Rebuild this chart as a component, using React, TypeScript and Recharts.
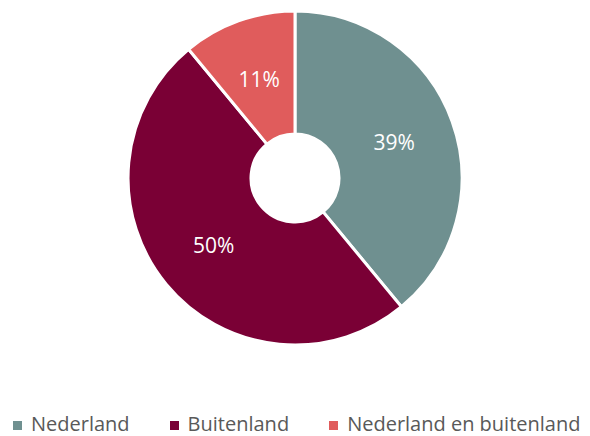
import { PieChart, Pie, Cell, Legend } from "recharts";

const categories = ["Nederland", "Buitenland", "Nederland en buitenland"];
const shares = [39, 50, 11];
const colors = ["#6f9090", "#7a0035", "#e05c5c"];

const data = categories.map((name, i) => ({ name, value: shares[i] }));

const RADIAN = Math.PI / 180;

// label halverwege de ring, wit
function renderLabel(props: any) {
  const { cx, cy, midAngle, innerRadius, outerRadius, value } = props;
  const r = (innerRadius + outerRadius) / 2;
  const x = cx + r * Math.cos(-midAngle * RADIAN);
  const y = cy + r * Math.sin(-midAngle * RADIAN);
  return (
    <text
      x={x}
      y={y}
      fill="#ffffff"
      textAnchor="middle"
      dominantBaseline="central"
      fontSize={21}
      fontFamily="'Open Sans', sans-serif"
    >
      {`${value}%`}
    </text>
  );
}

function renderLegend() {
  return (
    <div
      style={{
        display: "flex",
        gap: 40,
        paddingLeft: 13,
        fontFamily: "'Open Sans', sans-serif",
        fontSize: 20,
        lineHeight: "20px",
        color: "#595959",
        whiteSpace: "nowrap",
      }}
    >
      {categories.map((c, i) => (
        <span key={c} style={{ display: "flex", alignItems: "center" }}>
          <span
            style={{
              width: 9,
              height: 9,
              background: colors[i],
              marginRight: 9,
              marginTop: 3,
              display: "inline-block",
            }}
          />
          {c}
        </span>
      ))}
    </div>
  );
}

export default function App() {
  // body-marge van 8px compenseren zodat de grafiek de hele pagina vult
  return (
    <div style={{ position: "relative", top: -8, left: -8, width: 590, height: 436 }}>
      <PieChart width={590} height={436} margin={{ top: 0, right: 0, bottom: 0, left: 0 }}>
        <Pie
          data={data}
          dataKey="value"
          nameKey="name"
          cx={295}
          cy={178}
          innerRadius={44}
          outerRadius={167}
          startAngle={90}
          endAngle={-270}
          stroke="#ffffff"
          strokeWidth={3}
          label={renderLabel}
          labelLine={false}
          isAnimationActive={false}
        >
          {data.map((d, i) => (
            <Cell key={d.name} fill={colors[i]} />
          ))}
        </Pie>
        <Legend
          content={renderLegend}
          wrapperStyle={{ top: 414, left: 0, width: 590, height: 20 }}
        />
      </PieChart>
    </div>
  );
}
